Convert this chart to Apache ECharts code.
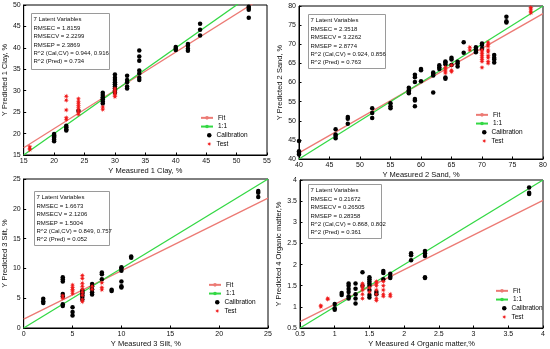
<!DOCTYPE html>
<html><head><meta charset="utf-8">
<script src="https://cdn.jsdelivr.net/npm/echarts@6/dist/echarts.min.js"></script>
<style>html,body{margin:0;padding:0;background:#fff}#c{width:550px;height:349px}</style>
</head><body><div id="c"></div>
<script>
// ---------- DATA ----------
const clayCal = [[20,18.2],[20,18.6],[20,19.0],[20,19.3],[20,19.6],[20,19.9],[22,20.7],[22,21.0],[22,21.5],[22,21.8],[24,25.3],
 [28,27.0],[28,27.5],[28,28.0],[28,28.5],[28,29.0],[28,29.5],[30,29.5],[30,30.0],[30,30.5],[30,31.0],[30,31.5],[30,32.0],[30,32.5],[30,33.0],[30,33.8],
 [32,30.5],[32,31.0],[32,32.0],[32,32.5],[32,33.5],[34,32.5],[34,33.0],[34,34.0],[34,34.7],[34,37.0],[34,38.0],[34,39.4],
 [40,39.5],[40,39.8],[40,40.2],[42,39.3],[42,39.8],[42,40.5],[42,40.9],[44,42.9],[44,44.2],[44,45.6],[52,47.0],[52,48.9],[52,49.3],[52,49.6]];
const clayTest = [[16,16.2],[16,16.6],[16,16.9],[22,23.3],[22,23.7],[22,25.5],[22,27.8],[22,28.7],
 [24,24.5],[24,25.0],[24,25.5],[24,26.0],[24,26.5],[24,27.0],[24,27.5],[24,28.1],[28,25.6],[28,26.2],
 [30,28.6],[30,29.0],[30,29.5],[30,30.0],[30,30.5]];
const clayFit = [[15,16.7],[55,52.4]];
const clayOne = [[15,15],[55,55]];
const clayStats = ['7 Latent Variables','RMSEC = 1.8159','RMSECV = 2.2299','RMSEP = 2.3869','R^2 (Cal,CV) = 0.944, 0.916','R^2 (Pred) = 0.734'];

const sandCal = [[40,41.2],[40,41.6],[40,42.0],[40,44.7],[46,45.4],[46,46.0],[46,46.4],[46,47.8],[48,49.2],[48,50.5],[48,51.0],
 [52,50.7],[52,52.0],[52,53.3],[55,53.3],[55,53.8],[55,54.6],[58,57.2],[58,57.6],[58,58.0],[58,58.6],
 [59,53.8],[59,55.3],[59,55.7],[59,60.1],[59,61.4],[59,62.0],[60,60.3],[60,63.2],[60,63.5],[62,57.4],[62,61.8],[62,62.3],[62,62.6],
 [63,63.5],[63,64.0],[63,64.5],[64,61.0],[64,61.3],[64,64.8],[64,65.2],[64,65.5],[65,64.6],[65,66.0],[65,66.5],[66,64.2],[66,65.0],[66,65.4],
 [67,67.8],[67,70.5],[69,67.9],[69,68.3],[69,68.7],[69,69.2],[70,68.8],[70,69.8],[70,70.2],[72,65.2],[72,66.0],[72,66.5],[72,67.2],
 [74,75.7],[74,76.0],[74,77.2]];
const sandTest = [[64,62.5],[64,63.0],[64,63.5],[64,64.0],[65,62.8],[65,63.2],[65,64.5],[68,68.5],[68,69.2],
 [70,63.9],[70,65.5],[70,66.0],[70,66.5],[70,67.0],[70,67.5],[70,68.0],[70,68.5],
 [71,65.0],[71,65.5],[71,66.5],[71,67.0],[71,68.0],[71,68.5],[71,69.5],[71,70.0],[71,70.5],
 [78,78.2],[78,78.6],[78,79.2],[78,79.6]];
const sandFit = [[40,41.6],[80,78.0]];
const sandOne = [[40,40],[80,80]];
const sandStats = ['7 Latent Variables','RMSEC = 2.3518','RMSECV = 3.2262','RMSEP = 2.8774','R^2 (Cal,CV) = 0.924, 0.856','R^2 (Pred) = 0.763'];

const siltCal = [[2,4.2],[2,4.5],[2,4.9],[4,3.7],[4,4.0],[4,5.3],[4,5.7],[4,7.8],[4,8.2],[4,8.5],[5,2.1],[5,2.7],[5,3.5],
 [6,4.8],[6,5.2],[6,5.5],[6,5.8],[6,6.0],[6,6.3],[7,5.6],[7,6.0],[7,6.5],[7,7.0],[7,7.4],[8,8.2],[8,9.0],[8,9.3],[9,6.2],[9,6.4],
 [10,6.8],[10,7.0],[10,7.8],[10,9.6],[10,10.0],[10,10.2],[11,11.8],[11,12.0],[24,22.0],[24,22.7],[24,23.0]];
const siltTest = [[4,5.0],[4,5.4],[5,5.8],[5,6.2],[5,6.5],[5,6.8],[5,7.2],[6,4.4],[6,4.8],[6,5.5],[6,6.0],[6,6.5],[6,7.0],[6,7.5],[6,8.3],[6,8.8],
 [7,6.5],[7,7.0],[8,6.4],[8,6.8],[8,7.6]];
const siltFit = [[0,1.5],[25,21.8]];
const siltOne = [[0,0],[25,25]];
const siltStats = ['7 Latent Variables','RMSEC = 1.6673','RMSECV = 2.1206','RMSEP = 1.5004','R^2 (Cal,CV) = 0.849, 0.757','R^2 (Pred) = 0.052'];

const omCal = [[1,0.93],[1,0.97],[1,1.07],[1.1,1.28],[1.1,1.33],[1.2,1.2],[1.2,1.25],[1.2,1.35],[1.2,1.42],[1.2,1.5],[1.2,1.55],
 [1.3,1.08],[1.3,1.2],[1.3,1.3],[1.3,1.43],[1.3,1.55],[1.4,1.5],[1.4,1.82],[1.5,1.22],[1.5,1.28],[1.5,1.4],[1.5,1.5],[1.5,1.55],[1.5,1.6],[1.5,1.65],[1.5,1.7],
 [1.6,1.3],[1.6,1.35],[1.7,1.65],[1.7,1.8],[1.7,1.85],[1.8,1.68],[1.8,1.72],[1.8,1.78],[2.1,2.1],[2.1,2.22],[2.1,2.27],
 [2.3,1.68],[2.3,1.7],[2.3,2.2],[2.3,2.27],[2.3,2.32],[3.8,3.67],[3.8,3.7],[3.8,3.82]];
const omTest = [[0.8,1.0],[0.8,1.03],[0.9,1.18],[0.9,1.2],[1.4,1.2],[1.4,1.3],[1.4,1.4],[1.4,1.45],[1.4,1.5],[1.4,1.55],[1.5,1.35],[1.5,1.45],
 [1.6,1.15],[1.6,1.2],[1.6,1.3],[1.6,1.4],[1.6,1.5],[1.6,1.55],[1.6,1.6],[1.7,1.25],[1.7,1.3],[1.7,1.4],[1.7,1.5],[1.7,1.6],[1.8,1.25],[1.8,1.3]];
const omFit = [[0.5,0.65],[4,3.52]];
const omOne = [[0.5,0.5],[4,4]];
const omStats = ['7 Latent Variables','RMSEC = 0.21672','RMSECV = 0.26505','RMSEP = 0.28358','R^2 (Cal,CV) = 0.868, 0.802','R^2 (Pred) = 0.361'];

const xNames = ['Y Measured 1 Clay, %','Y Measured 2 Sand, %','Y Measured 3 Silt, %','Y Measured 4 Organic matter,%'];
const yNames = ['Y Predicted 1 Clay, %','Y Predicted 2 Sand, %','Y Predicted 3 Silt, %','Y Predicted 4 Organic matter,%'];
const xRanges = [[15,55,5],[40,80,5],[0,25,5],[0.5,4,0.5]];
const yRanges = [[15,50,5],[40,80,5],[0,25,5],[0.5,4,0.5]];
const lineLegendNames = ['Fit','1:1'];
const markLegendNames = ['Calibration','Test'];

// ---------- LAYOUT ----------
const grids = [
  {left:21, top:5, width:246, height:150},
  {left:299, top:6, width:244, height:153},
  {left:21, top:179, width:247, height:150},
  {left:300, top:180, width:243, height:149}
];
const boxes = [
  {x:31, y:13, w:78, h:56},
  {x:308, y:14, w:77, h:54},
  {x:34, y:191, w:75, h:54},
  {x:308, y:184, w:73, h:54}
];
const legendPos = [{left:200, top:113.5},{left:475, top:110.5},{left:208, top:280.5},{left:495, top:286.5}];
const panels = [
  {cal:clayCal, test:clayTest, fit:clayFit, one:clayOne, stats:clayStats},
  {cal:sandCal, test:sandTest, fit:sandFit, one:sandOne, stats:sandStats},
  {cal:siltCal, test:siltTest, fit:siltFit, one:siltOne, stats:siltStats},
  {cal:omCal, test:omTest, fit:omFit, one:omOne, stats:omStats}
];

const FONT = 'Liberation Sans';
const starPath = 'path://M10,5L6.8,5.8L8.536,8.536L5.8,6.8L5,10L4.2,6.8L1.464,8.536L3.2,5.8L0,5L3.2,4.2L1.464,1.464L4.2,3.2L5,0L5.8,3.2L8.536,1.464L6.8,4.2Z';
const FIT_C = '#ec7a74', ONE_C = '#33d844', TEST_C = '#f01818';
const ROW = 8.7;

const legends = [];
legendPos.forEach(p => {
  legends.push({
    left:p.left, top:p.top, orient:'vertical', padding:0, itemGap:0,
    itemWidth:12, itemHeight:4.5, selectedMode:false,
    textStyle:{fontFamily:FONT, fontSize:6.5, color:'#000', lineHeight:ROW},
    data:lineLegendNames
  });
  legends.push({
    left:p.left + 7, top:p.top + 2*ROW, orient:'vertical', padding:0, itemGap:0,
    itemWidth:4.5, itemHeight:4.5, selectedMode:false,
    itemStyle:{borderWidth:0},
    textStyle:{fontFamily:FONT, fontSize:6.5, color:'#000', lineHeight:ROW},
    data:markLegendNames
  });
});

const option = {
  animation:false,
  backgroundColor:'#fff',
  grid: grids.map(g => Object.assign({show:true, borderColor:'#000', borderWidth:1, backgroundColor:'#fff'}, g)),
  xAxis: grids.map((g,i) => ({
    gridIndex:i, type:'value', min:xRanges[i][0], max:xRanges[i][1], interval:xRanges[i][2],
    name:xNames[i], nameLocation:'middle', nameGap:12,
    nameTextStyle:{fontFamily:FONT, fontSize:7.5, color:'#111'},
    axisLine:{show:true, onZero:false, lineStyle:{color:'#000', width:1}},
    axisTick:{show:true, inside:true, length:2.5, lineStyle:{color:'#000'}},
    axisLabel:{fontFamily:FONT, fontSize:7, color:'#111', margin:3},
    splitLine:{show:false}
  })),
  yAxis: grids.map((g,i) => ({
    gridIndex:i, type:'value', min:yRanges[i][0], max:yRanges[i][1], interval:yRanges[i][2],
    name:yNames[i], nameLocation:'middle', nameGap:i===3?16:13,
    nameTextStyle:{fontFamily:FONT, fontSize:7.5, color:'#111'},
    axisLine:{show:true, onZero:false, lineStyle:{color:'#000', width:1}},
    axisTick:{show:true, inside:true, length:2.5, lineStyle:{color:'#000'}},
    axisLabel:{fontFamily:FONT, fontSize:7, color:'#111', margin:3},
    splitLine:{show:false}
  })),
  legend: legends,
  series: [],
  graphic: []
};

panels.forEach((p,i) => {
  option.series.push({
    name:'Fit', type:'line', xAxisIndex:i, yAxisIndex:i, data:p.fit, symbol:'none', clip:true,
    lineStyle:{color:FIT_C, width:1.3}, itemStyle:{color:FIT_C}, z:2
  });
  option.series.push({
    name:'1:1', type:'line', xAxisIndex:i, yAxisIndex:i, data:p.one, symbol:'none', clip:true,
    lineStyle:{color:ONE_C, width:1.3}, itemStyle:{color:ONE_C}, z:2
  });
  option.series.push({
    name:'Calibration', type:'scatter', xAxisIndex:i, yAxisIndex:i, data:p.cal, symbol:'circle', symbolSize:4.5,
    itemStyle:{color:'#000', opacity:1}, z:3
  });
  option.series.push({
    name:'Test', type:'scatter', xAxisIndex:i, yAxisIndex:i, data:p.test, symbol:starPath, symbolSize:5.5,
    itemStyle:{color:TEST_C, borderWidth:0, opacity:1}, z:4
  });
  const b = boxes[i];
  option.graphic.push({
    type:'group', left:b.x, top:b.y, z:100,
    children:[
      {type:'rect', shape:{x:0, y:0, width:b.w, height:b.h}, style:{fill:'#fff', stroke:'#9a9a9a', lineWidth:1}},
      {type:'text', x:2, y:2, style:{text:p.stats.join('\n'), font:'6px "'+FONT+'"', fill:'#111', lineHeight:8.4}}
    ]
  });
});

const chart = echarts.init(document.getElementById('c'), null, {renderer:'canvas'});
chart.setOption(option);
</script></body></html>
